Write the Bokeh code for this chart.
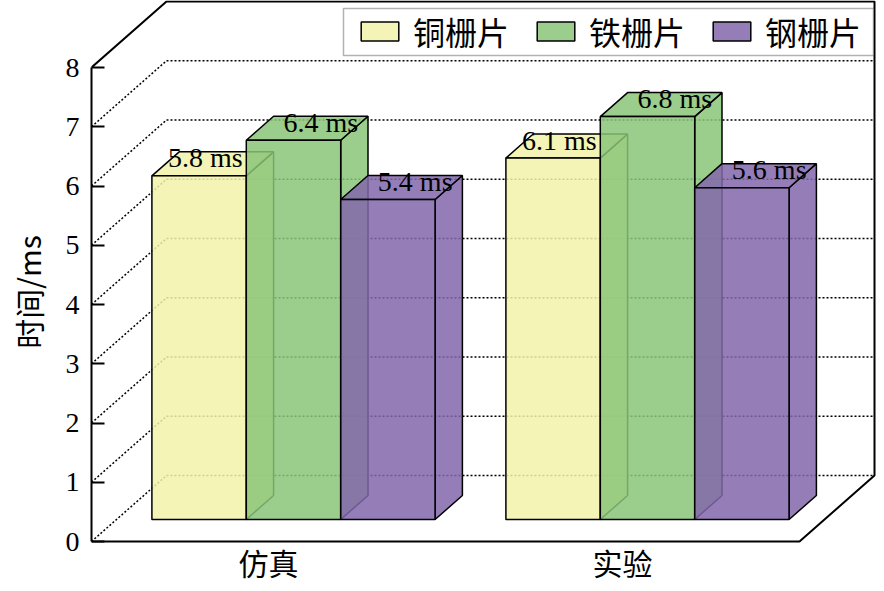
from bokeh.plotting import figure
from bokeh.models import Range1d, LinearAxis, FixedTicker, Legend, LegendItem, BoxAnnotation
from bokeh.core.properties import value
from bokeh.embed import file_html
from bokeh.resources import INLINE

# ---- data ----
groups = ["仿真", "实验"]
series = ["铜栅片", "铁栅片", "钢栅片"]
copper = [5.8, 6.1]
iron = [6.4, 6.8]
steel = [5.4, 5.6]
y_ticks = [0, 1, 2, 3, 4, 5, 6, 7, 8]
colors = ["#F1F2A9", "#8AC478", "#8367AB"]

values = [copper, iron, steel]
YMAX = y_ticks[-1]
NG = len(groups)

# layout (pixels)
FW, FH = 876, 583
BL = 91          # left border (front axis position)
UX = 354.0       # px per category unit
S = 59.25        # px per value unit
FLOOR = 541      # y of value 0 from the top

# projection of depth (in data units)
DDX = 75 / UX
DDY = 66 / S
D0, D1 = 1 / 3, 1 / 3 + 0.364
BW = 0.8 / len(series)

p = figure(width=FW, height=FH, output_backend="svg", toolbar_location=None,
           x_range=Range1d(0, (FW - BL) / UX),
           y_range=Range1d(-(FH - FLOOR) / S, FLOOR / S),
           min_border_left=BL, min_border_right=0, min_border_top=0, min_border_bottom=0,
           x_axis_type=None, y_axis_type=None)
p.outline_line_color = None
p.background_fill_color = "white"
p.border_fill_color = "white"

# dotted back-wall and side-wall grid lines
gx, gy = [], []
for k in y_ticks[:-1]:
    gx.append([DDX, NG + DDX]); gy.append([k + DDY, k + DDY])
    gx.append([0, DDX]); gy.append([k, k + DDY])
p.multi_line(gx, gy, line_color="black", line_width=1.5, line_dash="2 2")

# solid box outline (floor front edge, right side, top)
p.line([0, NG, NG + DDX, NG + DDX, DDX, 0], [0, 0, DDY, YMAX + DDY, YMAX + DDY, YMAX],
       line_color="black", line_width=2)

items = []
lab_x, lab_y, lab_t, lab_xo = [], [], [], []
ax, ay = D0 * DDX, D0 * DDY
bx, by = D1 * DDX, D1 * DDY
for i, (name, vals, col) in enumerate(zip(series, values, colors)):
    xs, ys = [], []
    for g, v in enumerate(vals):
        x0 = g + 0.5 - 0.4 + i * BW
        x1 = x0 + BW
        xs.append([x1 + ax, x1 + bx, x1 + bx, x1 + ax]); ys.append([ay, by, v + by, v + ay])
        xs.append([x0 + ax, x1 + ax, x1 + bx, x0 + bx]); ys.append([v + ay, v + ay, v + by, v + by])
        xs.append([x0 + ax, x1 + ax, x1 + ax, x0 + ax]); ys.append([ay, ay, v + ay, v + ay])
        lab_x.append((x0 + x1) / 2 + bx); lab_y.append(v + by)
        lab_t.append(f"{v} ms"); lab_xo.append(-21 if i == 0 else 0)
    r = p.patches(xs, ys, fill_color=col, fill_alpha=0.85, line_color="black", line_width=1.5)
    items.append(LegendItem(label=name, renderers=[r]))

p.text(x=lab_x, y=lab_y, text=lab_t, x_offset=lab_xo, y_offset=6,
       text_font=value("Liberation Serif"), text_font_size="28px",
       text_align="center", text_baseline="alphabetic", text_color="black")

# category labels under the floor
p.text(x=[g + 0.5 for g in range(NG)], y=[0] * NG, text=groups, y_offset=-2,
       text_font=value("Noto Sans CJK SC"), text_font_size="30px",
       text_align="center", text_baseline="top", text_color="black")

yax = LinearAxis(bounds=(0, YMAX), ticker=FixedTicker(ticks=y_ticks),
                 axis_line_width=2, axis_line_color="black",
                 major_tick_in=13, major_tick_out=0, major_tick_line_width=2,
                 major_tick_line_color="black", minor_tick_line_color=None,
                 major_label_text_font="Liberation Serif", major_label_text_font_size="28px",
                 major_label_text_color="black", major_label_standoff=12,
                 axis_label="时间/ms", axis_label_text_font="Noto Sans CJK SC",
                 axis_label_text_font_size="30px", axis_label_text_font_style="normal",
                 axis_label_text_color="black", axis_label_standoff=13)
p.add_layout(yax, "left")

# legend frame
p.add_layout(BoxAnnotation(left=343, right=873, top=8, bottom=55,
                           left_units="canvas", right_units="canvas",
                           top_units="canvas", bottom_units="canvas",
                           fill_color="white", fill_alpha=1.0,
                           line_color="black", line_width=1.5))

legend = Legend(items=items, orientation="horizontal", location=(265, FH - 54),
                border_line_color=None, background_fill_alpha=0,
                label_text_font="Noto Sans CJK SC", label_text_font_size="32px",
                label_text_color="black",
                glyph_width=47, glyph_height=24, label_standoff=10, spacing=23,
                padding=0, margin=0)
p.add_layout(legend)

open("out.html", "w").write(file_html(p, INLINE))
